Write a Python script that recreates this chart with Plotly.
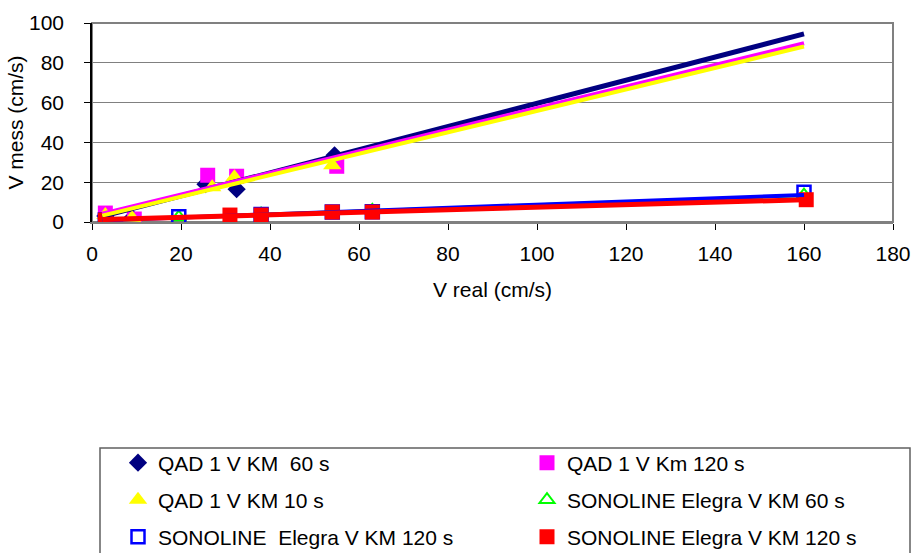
import plotly.graph_objects as go

# ---- data ----
qad60_x = [3, 9, 25.5, 32.5, 54.5]
qad60_y = [3, 2, 19, 16.5, 33.5]
qad120_x = [3, 9.5, 26, 32.5, 55]
qad120_y = [4.5, 1.5, 23.5, 23, 28]
qad10_x = [3, 9, 27, 32, 54]
qad10_y = [3.5, 2, 17.5, 22.5, 28.5]
son60_x = [3, 19.5, 38, 63, 160]
son60_y = [1, 2.5, 4, 5.8, 13.5]
son120b_x = [3, 19.5, 38, 54, 63, 160]
son120b_y = [1, 2.7, 3.8, 5, 5.2, 15]
son120r_x = [3, 31, 38, 54, 63, 160.5]
son120r_y = [1, 3.5, 3.5, 5, 5, 11.2]

trend_x = [2.3, 160]
trend_qad60 = [2.8, 94.5]
trend_qad120 = [4.2, 89.8]
trend_qad10 = [3.2, 88.2]
trend_son60 = [1.0, 13.3]
trend_son120b = [0.8, 13.6]
trend_son120r = [1.2, 11.2]

names = ["QAD 1 V KM  60 s", "QAD 1 V Km 120 s", "QAD 1 V KM 10 s",
         "SONOLINE Elegra V KM 60 s", "SONOLINE  Elegra V KM 120 s",
         "SONOLINE Elegra V KM 120 s"]

FONT = "Liberation Sans, Arial, sans-serif"
FS = 21
fig = go.Figure()

# (x, y, name, marker, legend, legendwidth)
marker_series = [
    (qad60_x, qad60_y, names[0], dict(symbol="diamond", size=14, color="#000080"), "legend", 364),
    (qad120_x, qad120_y, names[1], dict(symbol="square", size=15, color="#FF00FF"), "legend", 300),
    (qad10_x, qad10_y, names[2], dict(symbol="triangle-up", size=16, color="#FFFF00"), "legend2", 364),
    (son60_x, son60_y, names[3], dict(symbol="triangle-up-open", size=13, color="#00FF00",
                                      line=dict(width=2, color="#00FF00")), "legend2", 300),
    (son120b_x, son120b_y, names[4], dict(symbol="square-open", size=13, color="#0000FF",
                                          line=dict(width=2.5, color="#0000FF")), "legend3", 364),
    (son120r_x, son120r_y, names[5], dict(symbol="square", size=15, color="#FF0000"), "legend3", 300),
]
for x, y, n, m, lg, lw in marker_series:
    fig.add_trace(go.Scatter(x=x, y=y, mode="markers", name=n, marker=m, legend=lg,
                             legendwidth=lw))

trends = [
    (trend_qad60, "#000080", 5),
    (trend_qad120, "#FF00FF", 4),
    (trend_qad10, "#FFFF00", 4),
    (trend_son60, "#00FF00", 3),
    (trend_son120b, "#0000FF", 4),
    (trend_son120r, "#FF0000", 5),
]
for y, c, w in trends:
    fig.add_trace(go.Scatter(x=trend_x, y=y, mode="lines", line=dict(color=c, width=w),
                             showlegend=False, hoverinfo="skip"))

L, R, T, B = 92, 18, 23, 331
W, H = 911, 553
pw, ph = W - L - R, H - T - B

def px2x(p):
    return (p - L) / pw

def py2y(p):
    return (H - B - p) / ph

leg_common = dict(orientation="h", entrywidthmode="pixels",
                  xanchor="left", yanchor="middle", x=px2x(118),
                  bgcolor="rgba(0,0,0,0)", font=dict(family=FONT, size=FS, color="black"))

fig.update_layout(
    width=W, height=H,
    margin=dict(l=L, r=R, t=T, b=B, autoexpand=False),
    paper_bgcolor="white", plot_bgcolor="white",
    font=dict(family=FONT, size=FS, color="black"),
    legend=dict(y=py2y(463), **leg_common),
    legend2=dict(y=py2y(500), **leg_common),
    legend3=dict(y=py2y(537), **leg_common),
    xaxis=dict(range=[0, 180], dtick=20, showgrid=False, zeroline=False,
               showline=True, linecolor="#808080", linewidth=2,
               ticks="outside", ticklen=6, tickcolor="black", tickwidth=1,
               ticklabelstandoff=6,
               title=dict(text="V real (cm/s)", standoff=18, font=dict(size=FS))),
    yaxis=dict(range=[0, 100], dtick=20, showgrid=True, gridcolor="#808080", gridwidth=1,
               zeroline=False, showline=True, linecolor="black", linewidth=1.5,
               ticks="outside", ticklen=6, tickcolor="black", tickwidth=1,
               ticklabelstandoff=16,
               title=dict(text="V mess (cm/s)", standoff=0, font=dict(size=FS))),
    shapes=[
        dict(type="rect", xref="paper", yref="paper", x0=0, x1=1, y0=0, y1=1,
             line=dict(color="#808080", width=2), layer="below"),
        dict(type="rect", xref="paper", yref="paper", x0=px2x(100), x1=px2x(910),
             y0=py2y(448), y1=py2y(570), line=dict(color="#606060", width=1.5)),
    ],
)

fig.write_html("out.html")
